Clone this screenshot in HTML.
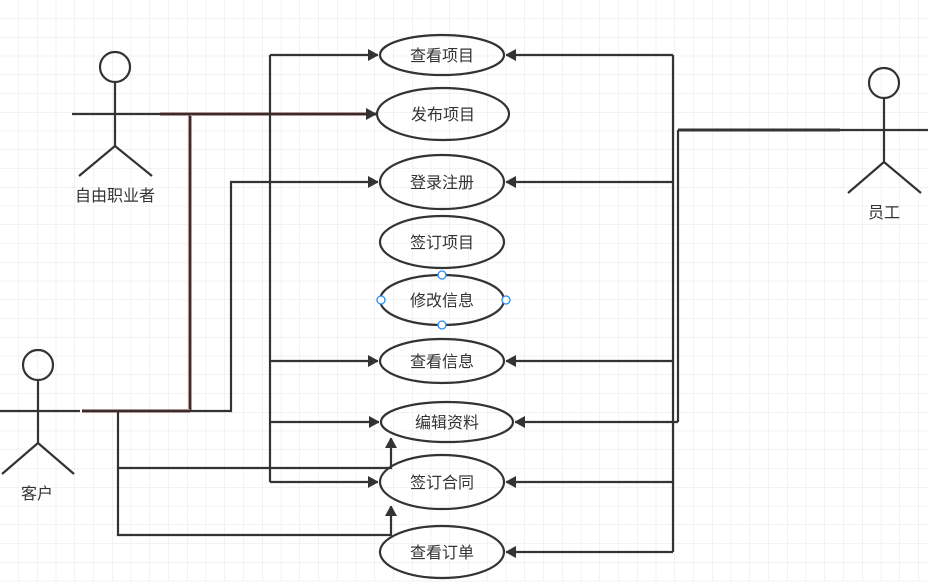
<!DOCTYPE html>
<html><head><meta charset="utf-8"><style>
html,body{margin:0;padding:0;background:#fff;}
svg{display:block;}
text{font-family:"Liberation Sans","Noto Sans CJK SC",sans-serif;font-size:16px;fill:#333;}
</style></head><body>
<svg width="928" height="582" viewBox="0 0 928 582" xmlns="http://www.w3.org/2000/svg">
<defs>
<pattern id="g" width="18.75" height="18.75" patternUnits="userSpaceOnUse" x="0" y="0">
<path d="M18.75 0V18.75M0 18.75H18.75" stroke="#e6e6e6" stroke-width="1" fill="none"/>
</pattern>
<marker id="b" markerWidth="10" markerHeight="12" refX="10" refY="6" orient="auto" markerUnits="userSpaceOnUse">
<path d="M0,0 L11,6 L0,12 z" fill="#333"/>
</marker>
</defs>
<rect width="928" height="582" fill="url(#g)"/>
<g stroke="#333" stroke-width="2.2" fill="none">
<circle cx="115" cy="67" r="15"/>
<path d="M115 82V146M72 114H160M115 146L79 176M115 146L152 176"/>
<circle cx="38" cy="365" r="15"/>
<path d="M38 380V443M0 411H80M38 443L2 474M38 443L74 474"/>
<circle cx="884" cy="83" r="15"/>
<path d="M884 98V162M840 130H928M884 162L848 193M884 162L921 193"/>
<ellipse cx="442" cy="55" rx="62" ry="20"/>
<ellipse cx="443" cy="114" rx="66" ry="26"/>
<ellipse cx="442" cy="182" rx="62" ry="27"/>
<ellipse cx="442" cy="242" rx="62" ry="26"/>
<ellipse cx="442" cy="300" rx="62" ry="25"/>
<ellipse cx="442" cy="361" rx="62" ry="22"/>
<ellipse cx="447" cy="422" rx="66" ry="20"/>
<ellipse cx="442" cy="482" rx="62" ry="27"/>
<ellipse cx="442" cy="552" rx="62" ry="26"/>
</g>
<g stroke="#333" stroke-width="2.2" fill="none">
<path d="M160 114H190V411" stroke="#d8b8b8" stroke-width="4"/>
<path d="M160 114H190V411" stroke="#3a2c2c" stroke-width="2.4"/>
<path d="M190 114H376" stroke="#d8b8b8" stroke-width="4"/>
<path d="M190 114H376" stroke="#3a2c2c" stroke-width="2.4" marker-end="url(#b)"/>
<path d="M82 411H190" stroke="#d8b8b8" stroke-width="4"/>
<path d="M82 411H190" stroke="#3a2c2c" stroke-width="2.4"/>
<path d="M190 411H231V182H378" marker-end="url(#b)"/>
<path d="M270 55V482"/>
<path d="M270 55H378" marker-end="url(#b)"/>
<path d="M270 361H378" marker-end="url(#b)"/>
<path d="M270 422H379" marker-end="url(#b)"/>
<path d="M270 482H378" marker-end="url(#b)"/>
<path d="M118 411V535H391V506" marker-end="url(#b)"/>
<path d="M118 468H391V438" marker-end="url(#b)"/>
<path d="M673 55V552"/>
<path d="M678 130V422"/>
<path d="M678 130H840" stroke-width="3"/>
<path d="M673 55H506" marker-end="url(#b)"/>
<path d="M673 182H506" marker-end="url(#b)"/>
<path d="M673 361H506" marker-end="url(#b)"/>
<path d="M678 422H515" marker-end="url(#b)"/>
<path d="M673 482H506" marker-end="url(#b)"/>
<path d="M673 552H506" marker-end="url(#b)"/>
</g>
<g fill="#fff" stroke="#2a8cf0" stroke-width="1.3">
<circle cx="442" cy="275" r="4"/><circle cx="442" cy="325" r="4"/>
<circle cx="381" cy="300" r="4"/><circle cx="506" cy="300" r="4"/>
</g>
<g text-anchor="middle">
<text x="442" y="61">查看项目</text>
<text x="443" y="120">发布项目</text>
<text x="442" y="188">登录注册</text>
<text x="442" y="248">签订项目</text>
<text x="442" y="306">修改信息</text>
<text x="442" y="367">查看信息</text>
<text x="447" y="428">编辑资料</text>
<text x="442" y="488">签订合同</text>
<text x="442" y="558">查看订单</text>
<text x="115" y="201" font-size="15">自由职业者</text>
<text x="37" y="499" font-size="15">客户</text>
<text x="884" y="218" font-size="15">员工</text>
</g>
</svg>
</body></html>
